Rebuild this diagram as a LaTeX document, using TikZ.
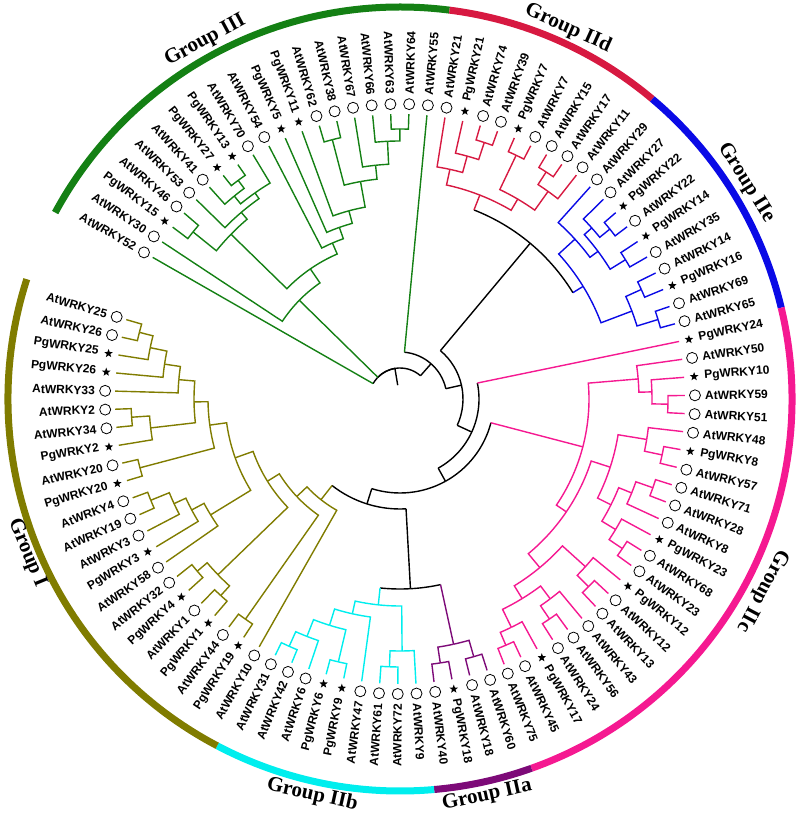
\documentclass[tikz,border=0pt]{standalone}
\usepackage{fontspec}
\setmainfont{Liberation Serif}
\setsansfont{Liberation Sans}
\usetikzlibrary{shapes.geometric}
\definecolor{cIII}{RGB}{20,128,20}
\definecolor{cIId}{RGB}{215,25,65}
\definecolor{cIIe}{RGB}{10,10,230}
\definecolor{cIIc}{RGB}{245,25,145}
\definecolor{cIIa}{RGB}{125,10,120}
\definecolor{cIIb}{RGB}{0,238,238}
\definecolor{cI}{RGB}{128,124,0}
\tikzset{
  wbr/.style={line width=1.4pt},
  wlbl/.style={font=\sffamily\bfseries\fontsize{12}{14}\selectfont, inner sep=0pt},
  wcirc/.style={circle, draw, line width=0.8pt, minimum size=11pt, inner sep=0pt},
  wstar/.style={star, star points=5, star point ratio=2.4, fill=black, inner sep=0pt, minimum size=9pt},
  glbl/.style={font=\rmfamily\bfseries\fontsize{21}{24}\selectfont, inner sep=0pt},
  ring/.style={line width=7pt}
}
\newcommand\WLeaf[3]{%
  \expandafter\xdef\csname WAx#1\endcsname{\fpeval{round(150.2-3.646*(#2),3)}}%
  \expandafter\xdef\csname WRx#1\endcsname{285}%
  \edef\wa{\csname WAx#1\endcsname}%
  \if#3s\node[wstar] (M#1) at (\wa:295pt) {};\else\node[wcirc] (M#1) at (\wa:295pt) {};\fi
  \ifdim\fpeval{cosd(\wa)}pt>0pt
    \node[wlbl,anchor=west,rotate=\wa] (T#1) at (\wa:305pt) {#1};%
  \else
    \node[wlbl,anchor=east,rotate=\fpeval{\wa+180}] (T#1) at (\wa:305pt) {#1};%
  \fi}
\newcommand\WDef[4]{%
  \expandafter\xdef\csname WAx#1\endcsname{\fpeval{round((\csname WAx#2\endcsname+\csname WAx#3\endcsname)/2,3)}}%
  \expandafter\xdef\csname WRx#1\endcsname{#4}}
\newcommand\WEdge[3]{%
  \edef\wpa{\csname WAx#2\endcsname}\edef\wpr{\csname WRx#2\endcsname}%
  \edef\wca{\csname WAx#3\endcsname}\edef\wcr{\csname WRx#3\endcsname}%
  \draw[wbr,#1] (\wpa:\wpr pt) arc[start angle=\wpa,end angle=\wca,radius=\wpr pt] -- (\wca:\wcr pt);}
\newcommand\WEdgeC[4]{%
  \edef\wpa{\csname WAx#3\endcsname}\edef\wpr{\csname WRx#3\endcsname}%
  \edef\wca{\csname WAx#4\endcsname}\edef\wcr{\csname WRx#4\endcsname}%
  \draw[wbr,#1] (\wpa:\wpr pt) arc[start angle=\wpa,end angle=\wca,radius=\wpr pt];
  \draw[wbr,#2] (\wca:\wpr pt) -- (\wca:\wcr pt);}
\newcommand\WNode[5]{\WDef{#2}{#3}{#4}{#5}\WEdge{#1}{#2}{#3}\WEdge{#1}{#2}{#4}}
\begin{document}
\begin{tikzpicture}
\useasboundingbox (-400pt,-417pt) rectangle (400pt,399pt);
% ---------- leaves ----------
\WLeaf{AtWRKY52}{0}{c}\WLeaf{AtWRKY30}{1}{c}\WLeaf{PgWRKY15}{2}{s}\WLeaf{AtWRKY46}{3}{c}
\WLeaf{AtWRKY53}{4}{c}\WLeaf{AtWRKY41}{5}{c}\WLeaf{PgWRKY27}{6}{s}\WLeaf{PgWRKY13}{7}{s}
\WLeaf{AtWRKY70}{8}{c}\WLeaf{AtWRKY54}{9}{c}\WLeaf{PgWRKY5}{10}{s}\WLeaf{PgWRKY11}{11}{s}
\WLeaf{AtWRKY62}{12}{c}\WLeaf{AtWRKY38}{13}{c}\WLeaf{AtWRKY67}{14}{c}\WLeaf{AtWRKY66}{15}{c}
\WLeaf{AtWRKY63}{16}{c}\WLeaf{AtWRKY64}{17}{c}\WLeaf{AtWRKY55}{18}{c}
\WLeaf{AtWRKY21}{19}{c}\WLeaf{PgWRKY21}{20}{s}\WLeaf{AtWRKY74}{21}{c}\WLeaf{AtWRKY39}{22}{c}
\WLeaf{PgWRKY7}{23}{s}\WLeaf{AtWRKY7}{24}{c}\WLeaf{AtWRKY15}{25}{c}\WLeaf{AtWRKY17}{26}{c}
\WLeaf{AtWRKY11}{27}{c}
\WLeaf{AtWRKY29}{28}{c}\WLeaf{AtWRKY27}{29}{c}\WLeaf{PgWRKY22}{30}{s}\WLeaf{AtWRKY22}{31}{c}
\WLeaf{PgWRKY14}{32}{s}\WLeaf{AtWRKY35}{33}{c}\WLeaf{AtWRKY14}{34}{c}\WLeaf{PgWRKY16}{35}{s}
\WLeaf{AtWRKY69}{36}{c}\WLeaf{AtWRKY65}{37}{c}
\WLeaf{PgWRKY24}{38}{s}\WLeaf{AtWRKY50}{39}{c}\WLeaf{PgWRKY10}{40}{s}\WLeaf{AtWRKY59}{41}{c}
\WLeaf{AtWRKY51}{42}{c}\WLeaf{AtWRKY48}{43}{c}\WLeaf{PgWRKY8}{44}{s}\WLeaf{AtWRKY57}{45}{c}
\WLeaf{AtWRKY71}{46}{c}\WLeaf{AtWRKY28}{47}{c}\WLeaf{AtWRKY8}{48}{c}\WLeaf{PgWRKY23}{49}{s}
\WLeaf{AtWRKY68}{50}{c}\WLeaf{AtWRKY23}{51}{c}\WLeaf{PgWRKY12}{52}{s}\WLeaf{AtWRKY12}{53}{c}
\WLeaf{AtWRKY13}{54}{c}\WLeaf{AtWRKY43}{55}{c}\WLeaf{AtWRKY56}{56}{c}\WLeaf{AtWRKY24}{57}{c}
\WLeaf{PgWRKY17}{58}{s}\WLeaf{AtWRKY45}{59}{c}\WLeaf{AtWRKY75}{60}{c}
\WLeaf{AtWRKY60}{61}{c}\WLeaf{AtWRKY18}{62}{c}\WLeaf{PgWRKY18}{63}{s}\WLeaf{AtWRKY40}{64}{c}
\WLeaf{AtWRKY9}{65}{c}\WLeaf{AtWRKY72}{66}{c}\WLeaf{AtWRKY61}{67}{c}\WLeaf{AtWRKY47}{68}{c}
\WLeaf{PgWRKY9}{69}{s}\WLeaf{PgWRKY6}{70}{s}\WLeaf{AtWRKY6}{71}{c}\WLeaf{AtWRKY42}{72}{c}
\WLeaf{AtWRKY31}{73}{c}
\WLeaf{AtWRKY10}{74}{c}\WLeaf{PgWRKY19}{75}{s}\WLeaf{AtWRKY44}{76}{c}\WLeaf{PgWRKY1}{77}{s}
\WLeaf{AtWRKY1}{78}{c}\WLeaf{PgWRKY4}{79}{s}\WLeaf{AtWRKY32}{80}{c}\WLeaf{AtWRKY58}{81}{c}
\WLeaf{PgWRKY3}{82}{s}\WLeaf{AtWRKY3}{83}{c}\WLeaf{AtWRKY19}{84}{c}\WLeaf{AtWRKY4}{85}{c}
\WLeaf{PgWRKY20}{86}{s}\WLeaf{AtWRKY20}{87}{c}\WLeaf{PgWRKY2}{88}{s}\WLeaf{AtWRKY34}{89}{c}
\WLeaf{AtWRKY2}{90}{c}\WLeaf{AtWRKY33}{91}{c}\WLeaf{PgWRKY26}{92}{s}\WLeaf{PgWRKY25}{93}{s}
\WLeaf{AtWRKY26}{94}{c}\WLeaf{AtWRKY25}{95}{c}
% ---------- Group III ----------
\WNode{cIII}{t1}{AtWRKY63}{AtWRKY64}{270}
\WNode{cIII}{t2}{AtWRKY66}{t1}{258}
\WNode{cIII}{t3}{AtWRKY67}{t2}{235}
\WNode{cIII}{t4}{AtWRKY62}{AtWRKY38}{268}
\WNode{cIII}{t5}{t4}{t3}{221}
\WNode{cIII}{t6}{PgWRKY11}{t5}{195}
\WNode{cIII}{t7}{PgWRKY5}{t6}{182}
\WNode{cIII}{t8}{AtWRKY54}{t7}{170}
\WNode{cIII}{t9}{PgWRKY27}{PgWRKY13}{272}
\WNode{cIII}{t10}{AtWRKY41}{t9}{262}
\WNode{cIII}{t11}{t10}{AtWRKY70}{252}
\WNode{cIII}{t12}{AtWRKY53}{t11}{245}
\WNode{cIII}{t13}{PgWRKY15}{AtWRKY46}{266}
\WNode{cIII}{t14}{t13}{t12}{236}
\WNode{cIII}{t15}{t14}{t8}{158}
\WNode{cIII}{G3b}{AtWRKY30}{t15}{141}
% ---------- Group IId ----------
\WNode{cIId}{d1}{AtWRKY74}{AtWRKY39}{270}
\WNode{cIId}{d2}{PgWRKY21}{d1}{252}
\WNode{cIId}{d3}{AtWRKY21}{d2}{235}
\WNode{cIId}{d4}{PgWRKY7}{AtWRKY7}{270}
\WNode{cIId}{d5}{AtWRKY15}{AtWRKY17}{270}
\WNode{cIId}{d6}{d5}{AtWRKY11}{255}
\WNode{cIId}{d7}{d4}{d6}{232}
\WNode{cIId}{IIdR}{d3}{d7}{219}
% ---------- Group IIe ----------
\WNode{cIIe}{e1}{PgWRKY22}{AtWRKY22}{270}
\WNode{cIIe}{e2}{AtWRKY27}{e1}{257}
\WNode{cIIe}{e3}{PgWRKY14}{AtWRKY35}{265}
\WNode{cIIe}{e4}{e2}{e3}{247}
\WNode{cIIe}{e5}{AtWRKY29}{e4}{237}
\WNode{cIIe}{e6}{AtWRKY14}{PgWRKY16}{265}
\WNode{cIIe}{e7}{AtWRKY69}{AtWRKY65}{270}
\WNode{cIIe}{e8}{e6}{e7}{248}
\WNode{cIIe}{IIeR}{e5}{e8}{215}
% ---------- Group IIc ----------
\WNode{cIIc}{c1}{AtWRKY59}{AtWRKY51}{268}
\WNode{cIIc}{c2}{PgWRKY10}{c1}{252}
\WNode{cIIc}{cA}{AtWRKY50}{c2}{239}
\WNode{cIIc}{c3}{PgWRKY8}{AtWRKY57}{268}
\WNode{cIIc}{c4}{AtWRKY48}{c3}{250}
\WNode{cIIc}{c5}{AtWRKY71}{AtWRKY28}{268}
\WNode{cIIc}{c6}{c5}{AtWRKY8}{250}
\WNode{cIIc}{c7}{AtWRKY68}{AtWRKY23}{268}
\WNode{cIIc}{c8}{PgWRKY23}{c7}{252}
\WNode{cIIc}{c9}{c6}{c8}{236}
\WNode{cIIc}{cB1}{c4}{c9}{221}
\WNode{cIIc}{c10}{AtWRKY12}{AtWRKY13}{266}
\WNode{cIIc}{c11}{PgWRKY12}{c10}{250}
\WNode{cIIc}{c13a}{AtWRKY56}{AtWRKY24}{266}
\WNode{cIIc}{c13}{AtWRKY43}{c13a}{250}
\WNode{cIIc}{c14}{AtWRKY45}{AtWRKY75}{268}
\WNode{cIIc}{c15}{PgWRKY17}{c14}{254}
\WNode{cIIc}{c16}{c13}{c15}{234}
\WNode{cIIc}{cB2}{c11}{c16}{219}
\WNode{cIIc}{cB}{cB1}{cB2}{201}
\WNode{cIIc}{IIcR}{cA}{cB}{189}
% ---------- Group IIa ----------
\WNode{cIIa}{a1}{PgWRKY18}{AtWRKY40}{267}
\WNode{cIIa}{a2}{AtWRKY60}{AtWRKY18}{268}
\WNode{cIIa}{IIaR}{a2}{a1}{251}
% ---------- Group IIb ----------
\WNode{cIIb}{b1}{AtWRKY72}{AtWRKY61}{268}
\WNode{cIIb}{b2}{AtWRKY9}{b1}{252}
\WNode{cIIb}{b3}{AtWRKY42}{AtWRKY31}{271}
\WNode{cIIb}{b4}{AtWRKY6}{b3}{255}
\WNode{cIIb}{b5}{PgWRKY9}{PgWRKY6}{270}
\WNode{cIIb}{b6}{b4}{b5}{237}
\WNode{cIIb}{b7}{b6}{AtWRKY47}{220}
\WNode{cIIb}{IIbR}{b7}{b2}{207}
% ---------- Group I ----------
\WNode{cI}{Ia}{AtWRKY25}{AtWRKY26}{269}
\WNode{cI}{Ib}{Ia}{PgWRKY25}{255}
\WNode{cI}{Ic}{Ib}{PgWRKY26}{238}
\WNode{cI}{Id}{Ic}{AtWRKY33}{222}
\WNode{cI}{Ie}{AtWRKY2}{AtWRKY34}{269}
\WNode{cI}{If}{Ie}{PgWRKY2}{251}
\WNode{cI}{Ig}{Id}{If}{206}
\WNode{cI}{Ih}{AtWRKY20}{PgWRKY20}{269}
\WNode{cI}{Ii}{Ig}{Ih}{192}
\WNode{cI}{Ij}{AtWRKY4}{AtWRKY19}{269}
\WNode{cI}{Ik}{Ij}{AtWRKY3}{249}
\WNode{cI}{Il}{Ik}{PgWRKY3}{236}
\WNode{cI}{Iu}{Il}{AtWRKY58}{222}
\WNode{cI}{Iw}{Ii}{Iu}{175}
\WNode{cI}{Iv1}{AtWRKY32}{PgWRKY4}{266}
\WNode{cI}{Iv2}{AtWRKY1}{PgWRKY1}{266}
\WNode{cI}{Iv}{Iv1}{Iv2}{253}
\WNode{cI}{Iq}{AtWRKY44}{PgWRKY19}{269}
\WNode{cI}{Iz1}{Iw}{Iv}{156}
\WNode{cI}{Iz2}{Iz1}{Iq}{142}
\WNode{cI}{IR}{Iz2}{AtWRKY10}{128}
% ---------- backbone ----------
\WDef{N7}{IIbR}{IIaR}{190}
\WEdgeC{black}{cIIb}{N7}{IIbR}\WEdgeC{black}{cIIa}{N7}{IIaR}
\WDef{N6}{IR}{N7}{110}
\WEdgeC{black}{cI}{N6}{IR}\WEdgeC{black}{black}{N6}{N7}
\WDef{N5}{IIcR}{N6}{94}
\WEdgeC{black}{cIIc}{N5}{IIcR}\WEdgeC{black}{black}{N5}{N6}
\WDef{N4}{PgWRKY24}{N5}{79}
\WEdgeC{black}{cIIc}{N4}{PgWRKY24}\WEdgeC{black}{black}{N4}{N5}
\WDef{N3}{IIdR}{IIeR}{203}
\WEdgeC{black}{cIId}{N3}{IIdR}\WEdgeC{black}{cIIe}{N3}{IIeR}
\WDef{N2}{N3}{N4}{63}
\WEdgeC{black}{black}{N2}{N3}\WEdgeC{black}{black}{N2}{N4}
\WDef{X}{AtWRKY55}{N2}{47}
\WEdgeC{black}{cIII}{X}{AtWRKY55}\WEdgeC{black}{black}{X}{N2}
\WDef{R}{AtWRKY52}{X}{31}
\WEdgeC{black}{cIII}{R}{AtWRKY52}\WEdgeC{black}{cIII}{R}{G3b}\WEdgeC{black}{black}{R}{X}
\edef\wra{\csname WAxR\endcsname}
\draw[wbr] (\wra:31pt) -- (\wra:14pt);
% ---------- outer ring ----------
\draw[ring,cIII] (151.6:392pt) arc[start angle=151.6,end angle=82.75,radius=392pt];
\draw[ring,cIId] (82.75:392pt) arc[start angle=82.75,end angle=49.93,radius=392pt];
\draw[ring,cIIe] (49.93:392pt) arc[start angle=49.93,end angle=13.47,radius=392pt];
\draw[ring,cIIc] (13.47:392pt) arc[start angle=13.47,end angle=-70.4,radius=392pt];
\draw[ring,cIIa] (-70.4:392pt) arc[start angle=-70.4,end angle=-85.0,radius=392pt];
\draw[ring,cIIb] (-85.0:392pt) arc[start angle=-85.0,end angle=-117.8,radius=392pt];
\draw[ring,cI] (-117.8:392pt) arc[start angle=-117.8,end angle=-197.8,radius=392pt];
% ---------- group labels ----------
\node[glbl,rotate=28.5] (g3) at (118.5:408pt) {Group III};
\node[glbl,rotate=-24.4] (g2d) at (65.6:407pt) {Group IId};
\node[glbl,rotate=-58] (g2e) at (32:408pt) {Group IIe};
\node[glbl,rotate=-117.9] (g2c) at (-27.9:410pt) {Group IIc};
\node[glbl,rotate=12.4] (g2a) at (-77.6:406pt) {Group IIa};
\node[glbl,rotate=-12.5] (g2b) at (-102.5:405.6pt) {Group IIb};
\node[glbl,rotate=-67.6] (g1) at (202.4:403.5pt) {Group I};
\end{tikzpicture}
\end{document}
